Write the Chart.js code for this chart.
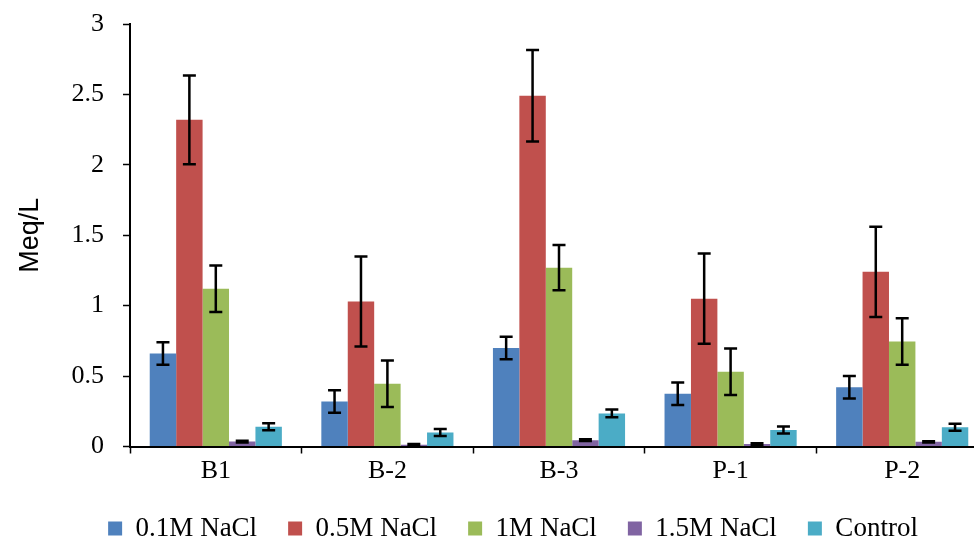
<!DOCTYPE html>
<html lang="en">
<head>
    <meta charset="UTF-8">
    <title>Meq/L</title>
    <script src="https://cdn.jsdelivr.net/npm/chart.js"></script>
    <style>
        html, body { margin: 0; padding: 0; background: #fff; overflow: hidden; }
        #wrap { width: 1026px; height: 542px; }
    </style>
</head>
<body>
<div id="wrap">
    <canvas id="myChart" width="1026" height="542"></canvas>
</div>
<script>
    // données
    const categories = ['B1', 'B-2', 'B-3', 'P-1', 'P-2']
    const seriesNames = ['0.1M NaCl', '0.5M NaCl', '1M NaCl', '1.5M NaCl', 'Control']

    const nacl01 = [0.66, 0.32, 0.70, 0.375, 0.42]
    const nacl05 = [2.32, 1.03, 2.49, 1.05, 1.24]
    const nacl1 = [1.12, 0.445, 1.27, 0.53, 0.745]
    const nacl15 = [0.035, 0.012, 0.045, 0.018, 0.033]
    const control = [0.14, 0.10, 0.235, 0.117, 0.136]

    const err01 = [0.08, 0.08, 0.08, 0.08, 0.08]
    const err05 = [0.315, 0.32, 0.325, 0.32, 0.32]
    const err1 = [0.165, 0.165, 0.16, 0.165, 0.165]
    const err15 = [0.006, 0.005, 0.006, 0.005, 0.005]
    const errControl = [0.025, 0.025, 0.027, 0.025, 0.025]

    const couleurs = ['#4F81BD', '#C0504D', '#9BBB59', '#8064A2', '#4BACC6']
    const valeurs = [nacl01, nacl05, nacl1, nacl15, control]
    const erreurs = [err01, err05, err1, err15, errControl]

    // barres d'erreur
    const errorBars = {
        id: 'errorBars',
        afterDatasetsDraw(chart) {
            const ctx = chart.ctx
            const y = chart.scales.y
            ctx.save()
            ctx.strokeStyle = '#000'
            chart.data.datasets.forEach((ds, i) => {
                const meta = chart.getDatasetMeta(i)
                meta.data.forEach((bar, j) => {
                    const v = ds.data[j]
                    const e = ds.errors[j]
                    const top = y.getPixelForValue(v + e)
                    const bot = y.getPixelForValue(v - e)
                    ctx.lineWidth = 2.5
                    ctx.beginPath()
                    ctx.moveTo(bar.x, top)
                    ctx.lineTo(bar.x, bot)
                    ctx.moveTo(bar.x - 6.5, top)
                    ctx.lineTo(bar.x + 6.5, top)
                    ctx.moveTo(bar.x - 6.5, bot)
                    ctx.lineTo(bar.x + 6.5, bot)
                    ctx.stroke()
                })
            })
            ctx.restore()
        }
    }

    const ctx = document.getElementById('myChart')
    new Chart(ctx, {
        type: 'bar',
        data: {
            labels: categories,
            datasets: seriesNames.map((nom, i) => ({
                label: nom,
                data: valeurs[i],
                errors: erreurs[i],
                backgroundColor: couleurs[i],
                borderWidth: 0,
                categoryPercentage: 0.77,
                barPercentage: 1
            }))
        },
        options: {
            responsive: false,
            animation: false,
            layout: { padding: { top: 24, right: 0, left: 0, bottom: 0 } },
            plugins: {
                tooltip: { enabled: false },
                legend: {
                    position: 'bottom',
                    maxHeight: 58,
                    labels: {
                        boxWidth: 14,
                        boxHeight: 14,
                        padding: 31,
                        color: '#000',
                        font: { family: 'Liberation Serif', size: 27 }
                    }
                }
            },
            scales: {
                x: {
                    grid: {
                        display: true,
                        drawOnChartArea: false,
                        offset: true,
                        color: '#000',
                        tickLength: 7,
                        tickWidth: 1.5
                    },
                    border: { color: '#000', width: 2 },
                    ticks: {
                        color: '#000',
                        padding: 2,
                        font: { family: 'Liberation Serif', size: 26 }
                    },
                    afterFit: s => { s.height = 37.5 }
                },
                y: {
                    min: 0,
                    max: 3,
                    ticks: {
                        stepSize: 0.5,
                        color: '#000',
                        padding: 19,
                        font: { family: 'Liberation Serif', size: 26 },
                        callback: v => String(v)
                    },
                    grid: {
                        display: true,
                        drawOnChartArea: false,
                        color: '#000',
                        tickLength: 7,
                        tickWidth: 1.5
                    },
                    border: { color: '#000', width: 2 },
                    title: {
                        display: true,
                        text: 'Meq/L',
                        color: '#000',
                        padding: { top: 14, bottom: 10 },
                        font: { family: 'Liberation Sans', size: 27 }
                    },
                    afterFit: s => {
                        s.width = 130
                        s.paddingTop = 0
                        s.paddingBottom = 0
                    }
                },
                // axe vide à droite : la zone de tracé déborde de la fenêtre comme sur la figure
                marge: {
                    type: 'linear',
                    position: 'right',
                    grid: { display: false },
                    border: { display: false },
                    ticks: { display: false },
                    afterFit: s => { s.width = 38 }
                }
            }
        },
        plugins: [errorBars]
    })
</script>
</body>
</html>
